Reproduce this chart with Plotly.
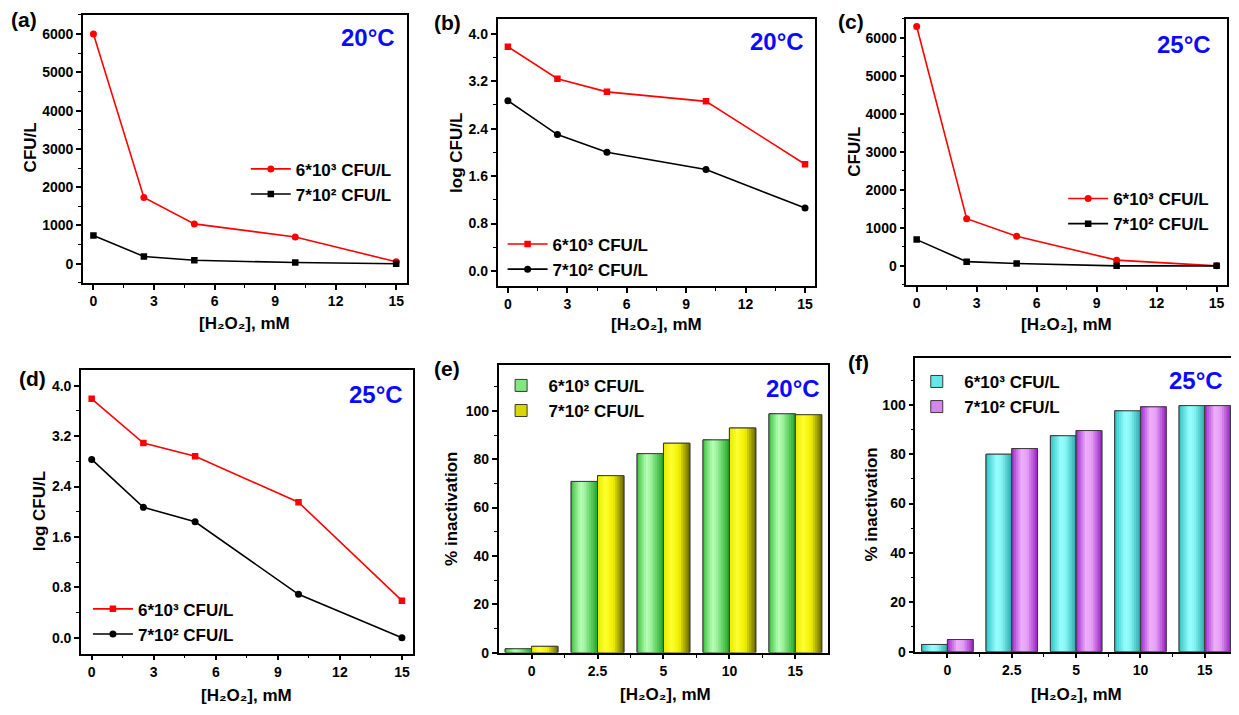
import plotly.graph_objects as go

# ---------------- data ----------------
h2o2_mM = [0, 2.5, 5, 10, 15]
categories = ["0", "2.5", "5", "10", "15"]

cfu_20_hi = [6000, 1730, 1040, 700, 50]
cfu_20_lo = [740, 190, 90, 30, 0]
log_20_hi = [3.78, 3.24, 3.02, 2.86, 1.80]
log_20_lo = [2.87, 2.30, 2.00, 1.71, 1.06]
cfu_25_hi = [6300, 1240, 780, 150, 0]
cfu_25_lo = [690, 110, 60, 0, 0]
log_25_hi = [3.79, 3.09, 2.88, 2.15, 0.59]
log_25_lo = [2.83, 2.07, 1.84, 0.69, 0.0]
inact_20_hi = [1.6, 70.8, 82.3, 88.0, 98.8]
inact_20_lo = [2.6, 73.2, 86.6, 92.9, 98.4]
inact_25_hi = [2.9, 80.0, 87.5, 97.6, 99.7]
inact_25_lo = [4.9, 82.3, 89.6, 99.2, 99.7]

name_hi = "6*10³ CFU/L"
name_lo = "7*10² CFU/L"

# ---------------- layout helpers ----------------
PAGE_W, PAGE_H = 1239, 715
OFF = 8  # default body margin of the html page
W, H = PAGE_W - OFF, PAGE_H - OFF
FONT = "Arial, Liberation Sans, DejaVu Sans, sans-serif"


def fx(p):
    return (p - OFF) / W


def fy(p):
    return 1 - (p - OFF) / H


# panel frames in page pixels: x0, x1, ytop, ybottom
frames = {
    1: (83, 407, 15, 286),
    2: (498, 816, 19, 289),
    3: (907, 1228, 19, 288),
    4: (81, 413, 374, 661),
    5: (499, 829, 369, 660),
    6: (916, 1238, 362, 659),
}

fig = go.Figure()


def axname(i, kind):
    return kind if i == 1 else f"{kind}{i}"


def add_line_panel(i, hi, lo, sym_hi, sym_lo):
    xa, ya = axname(i, "x"), axname(i, "y")
    lg = "legend" if i == 1 else f"legend{i}"
    fig.add_trace(go.Scatter(
        x=h2o2_mM, y=hi, mode="lines+markers", name=name_hi,
        line=dict(color="#ff0000", width=1.6),
        marker=dict(symbol=sym_hi, size=7 if sym_hi == "circle" else 6.5, color="#ff0000"),
        xaxis=xa, yaxis=ya, legend=lg))
    fig.add_trace(go.Scatter(
        x=h2o2_mM, y=lo, mode="lines+markers", name=name_lo,
        line=dict(color="#000000", width=1.6),
        marker=dict(symbol=sym_lo, size=7 if sym_lo == "circle" else 6.5, color="#000000"),
        xaxis=xa, yaxis=ya, legend=lg))


def hex2rgb(h):
    h = h.lstrip("#")
    return [int(h[k:k + 2], 16) for k in (0, 2, 4)]


def grad(stops, t):
    for (t0, c0), (t1, c1) in zip(stops[:-1], stops[1:]):
        if t0 <= t <= t1:
            f = 0 if t1 == t0 else (t - t0) / (t1 - t0)
            a, b = hex2rgb(c0), hex2rgb(c1)
            r = [round(a[k] + (b[k] - a[k]) * f) for k in range(3)]
            return "rgb({},{},{})".format(*r)
    return stops[-1][1]


def add_bars(i, values, offset, stops, mid, name):
    xa, ya = axname(i, "x"), axname(i, "y")
    lg = f"legend{i}"
    idx = list(range(len(categories)))
    w = 0.4
    fig.add_trace(go.Bar(
        x=idx, y=values, offset=offset, width=w, name=name, textposition="none",
        marker=dict(color=mid, line=dict(color="#3a3a3a", width=1)),
        xaxis=xa, yaxis=ya, legend=lg))
    n = 12
    for s in range(n):
        fig.add_trace(go.Bar(
            x=idx, y=values, offset=offset + s * w / n, width=w - s * w / n,
            textposition="none",
            marker=dict(color=grad(stops, (s + 0.5) / n), line=dict(width=0)),
            showlegend=False, hoverinfo="skip", xaxis=xa, yaxis=ya))
    fig.add_trace(go.Bar(
        x=idx, y=values, offset=offset, width=w, textposition="none",
        marker=dict(color="rgba(0,0,0,0)", line=dict(color="#3a3a3a", width=1)),
        showlegend=False, hoverinfo="skip", xaxis=xa, yaxis=ya))


add_line_panel(1, cfu_20_hi, cfu_20_lo, "circle", "square")
add_line_panel(2, log_20_hi, log_20_lo, "square", "circle")
add_line_panel(3, cfu_25_hi, cfu_25_lo, "circle", "square")
add_line_panel(4, log_25_hi, log_25_lo, "square", "circle")

green = [(0, "#3cc23c"), (0.35, "#b6ffb6"), (0.5, "#a4f6a4"), (1, "#1ea81e")]
yellow = [(0, "#e8e800"), (0.3, "#ffff30"), (0.6, "#eeee00"), (1, "#666600")]
cyan = [(0, "#2ec4c4"), (0.4, "#98ffff"), (0.6, "#86f6f6"), (1, "#2aa8a8")]
violet = [(0, "#a028d0"), (0.38, "#eeb0fa"), (0.6, "#e6a0f6"), (1, "#9820c4")]

add_bars(5, inact_20_hi, -0.4, green, "#80e880", name_hi)
add_bars(5, inact_20_lo, 0.0, yellow, "#d8d800", name_lo)
add_bars(6, inact_25_hi, -0.4, cyan, "#66e6e6", name_hi)
add_bars(6, inact_25_lo, 0.0, violet, "#d488ee", name_lo)

# ---------------- axes ----------------
tickfont = dict(family=FONT, size=14, color="black", weight="bold")
base_ax = dict(showline=True, linecolor="black", linewidth=1.5, mirror=True,
               ticks="outside", ticklen=5, tickwidth=1.5, tickcolor="black",
               showgrid=False, zeroline=False, tickfont=tickfont)

layout_axes = {}
for i, (x0, x1, yt, yb) in frames.items():
    xk = "xaxis" if i == 1 else f"xaxis{i}"
    yk = "yaxis" if i == 1 else f"yaxis{i}"
    xa = dict(base_ax, domain=[fx(x0), min(1, fx(x1))], anchor=axname(i, "y"))
    ya = dict(base_ax, domain=[fy(yb), fy(yt)], anchor=axname(i, "x"))
    if i <= 4:
        xa.update(range=[-0.52, 15.52], tickmode="linear", tick0=0, dtick=3,
                  minor=dict(ticks="outside", ticklen=3, tickwidth=1.2, dtick=1.5, tick0=0, tickcolor="black"))
    else:
        xa.update(range=[-0.5, 4.5], tickmode="array", tickvals=list(range(len(categories))),
                  ticktext=categories,
                  minor=dict(ticks="outside", ticklen=4, tickwidth=1.2, tickmode="array",
                             tickvals=[0.5, 1.5, 2.5, 3.5], tickcolor="black"))
    if i in (1, 3):
        ya.update(range=[-500, 6500], tickmode="linear", tick0=0, dtick=1000,
                  minor=dict(ticks="outside", ticklen=3, tickwidth=1.2, dtick=500, tick0=0, tickcolor="black"))
    elif i in (2, 4):
        ya.update(range=[-0.25, 4.25], tickmode="linear", tick0=0, dtick=0.8, tickformat=".1f",
                  minor=dict(ticks="outside", ticklen=3, tickwidth=1.2, dtick=0.4, tick0=0, tickcolor="black"))
    else:
        ya.update(range=[0, 119], tickmode="linear", tick0=0, dtick=20,
                  minor=dict(ticks="outside", ticklen=3, tickwidth=1.2, dtick=10, tick0=0, tickcolor="black"))
    layout_axes[xk] = xa
    layout_axes[yk] = ya

# ---------------- legends ----------------
legfont = dict(family=FONT, size=17, color="black", weight="bold")


def leg(x, ytop, iw=40):
    return dict(x=fx(x), y=fy(ytop), xanchor="left", yanchor="top",
                bgcolor="rgba(0,0,0,0)", font=legfont, itemwidth=iw,
                tracegroupgap=0, traceorder="normal")


legends = dict(
    legend=leg(246, 153),
    legend2=leg(503, 229),
    legend3=leg(1064, 183),
    legend4=leg(88, 598),
    legend5=leg(494, 372, 45),
    legend6=leg(910, 368, 45),
)

# ---------------- annotations ----------------
ann = []


def text(x, y, s, size, color="black", xanchor="center", angle=0):
    ann.append(dict(x=fx(x), y=fy(y), xref="paper", yref="paper", text=s,
                    showarrow=False, xanchor=xanchor, yanchor="middle", textangle=angle,
                    font=dict(family=FONT, size=size, color=color, weight="bold")))


for lab, (x, y) in zip("abcdef", [(24, 20), (448, 23), (852, 22), (33, 383), (447, 373), (859, 367)]):
    text(x, y, f"({lab})", 21)

temps = [("20", 397, 38), ("20", 807, 42), ("25", 1214, 45), ("25", 405, 399), ("20", 823, 393), ("25", 1226, 385)]
for t, x, y in temps:
    text(x, y, f"{t}°C", 24, color="#0a0aff", xanchor="right")

xt = "[H₂O₂], mM"
for x, y in [(245, 327), (657, 328), (1067, 328), (247, 703), (666, 702), (1077, 702)]:
    text(x, y, xt, 17)

for s, x, y in [("CFU/L", 30, 149), ("log CFU/L", 457, 155), ("CFU/L", 855, 153),
                ("log CFU/L", 39, 517), ("% inactivation", 452, 515), ("% inactivation", 872, 510)]:
    text(x, y, s, 17, angle=-90)

fig.update_layout(
    width=W, height=H, margin=dict(l=0, r=0, t=0, b=0),
    paper_bgcolor="white", plot_bgcolor="white",
    barmode="overlay", annotations=ann,
    font=dict(family=FONT, color="black"),
    **layout_axes, **legends,
)

fig.write_html("out.html")
